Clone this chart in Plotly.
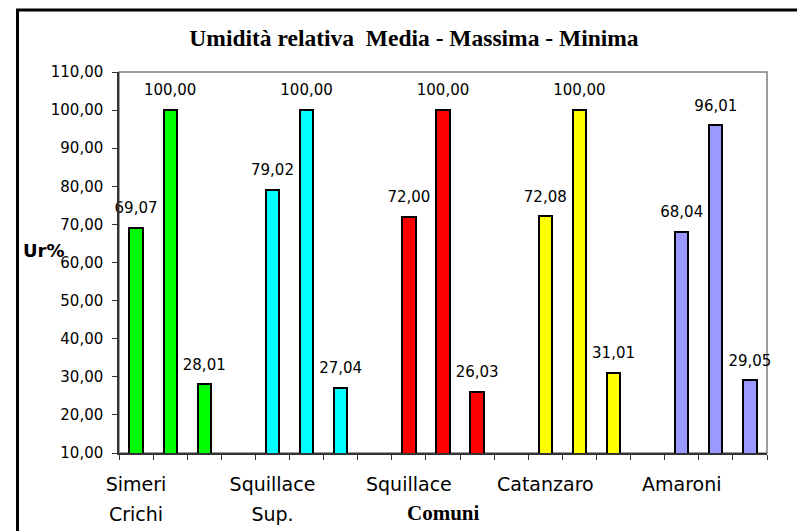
import plotly.graph_objects as go

# ---- data ----
comuni_line1 = ["Simeri", "Squillace", "Squillace", "Catanzaro", "Amaroni"]
comuni_line2 = ["Crichi", "Sup.", "", "", ""]
media = [69.07, 79.02, 72.00, 72.08, 68.04]
massima = [100.00, 100.00, 100.00, 100.00, 96.01]
minima = [28.01, 27.04, 26.03, 31.01, 29.05]
bar_colors = ["#00FF00", "#00FFFF", "#FF0000", "#FFFF00", "#9999FF"]
y_ticks = [10, 20, 30, 40, 50, 60, 70, 80, 90, 100, 110]

SLOTS_PER_GROUP = 4  # 3 bars + one empty slot
n_groups = len(comuni_line1)
n_slots = n_groups * SLOTS_PER_GROUP - 1

# page has an 8px body margin; figure is sized to fit the 805x531 window
OFF = 8
W, H = 805 - OFF, 531 - OFF
PL, PR, PT, PB = 119, 767, 72, 453  # plot area in window pixels

fig = go.Figure()
all_x, all_y = [], []
for g in range(n_groups):
    xs = [g * SLOTS_PER_GROUP + j for j in range(3)]
    ys = [media[g], massima[g], minima[g]]
    all_x += xs
    all_y += ys
    fig.add_trace(go.Bar(
        x=xs, y=ys, width=0.39,
        marker=dict(color=bar_colors[g], line=dict(color="black", width=2)),
        showlegend=False, hoverinfo="skip",
    ))

fig.add_trace(go.Scatter(
    x=all_x, y=all_y, mode="markers+text",
    marker=dict(size=16, opacity=0),
    text=[f"{v:.2f}".replace(".", ",") for v in all_y],
    textposition="top center",
    textfont=dict(family="DejaVu Sans", size=15, color="black"),
    showlegend=False, hoverinfo="skip", cliponaxis=False,
))

label_pos = [g * SLOTS_PER_GROUP for g in range(n_groups)]
# helper traces so that the two label axes are drawn
for ax in ("x2", "x3"):
    fig.add_trace(go.Scatter(
        x=label_pos, y=[None] * n_groups, xaxis=ax, yaxis="y",
        mode="markers", marker=dict(opacity=0),
        showlegend=False, hoverinfo="skip",
    ))

xr = [-0.5, n_slots - 0.5]
pw, ph = PR - PL, PB - PT

fig.update_layout(
    width=W, height=H,
    margin=dict(l=PL - OFF, r=W - (PR - OFF), t=PT - OFF, b=H - (PB - OFF)),
    paper_bgcolor="white", plot_bgcolor="white",
    separators=",.",
    bargap=0,
    title=dict(
        text="Umidità relativa  Media - Massima - Minima",
        font=dict(family="Liberation Serif", size=23.5, color="black", weight="bold"),
        x=(414 - OFF) / W, xanchor="center", xref="container",
        y=1 - (38 - OFF) / H, yanchor="middle", yref="container",
        automargin=False,
    ),
    xaxis=dict(
        range=xr, tickvals=[i - 0.5 for i in range(n_slots + 1)],
        ticktext=[""] * (n_slots + 1),
        ticks="outside", ticklen=5, tickcolor="#333333", tickwidth=1,
        showline=True, linecolor="#333333", linewidth=1.5,
        showgrid=False, zeroline=False, automargin=False,
    ),
    xaxis2=dict(
        overlaying="x", anchor="y", side="bottom", range=xr,
        tickvals=label_pos, ticktext=comuni_line1, ticks="",
        showline=False, showgrid=False, zeroline=False, automargin=False,
        tickfont=dict(family="DejaVu Sans", size=19, color="black"),
        ticklabelstandoff=18,
    ),
    xaxis3=dict(
        overlaying="x", anchor="y", side="bottom", range=xr,
        tickvals=label_pos, ticktext=comuni_line2, ticks="",
        showline=False, showgrid=False, zeroline=False, automargin=False,
        tickfont=dict(family="DejaVu Sans", size=19, color="black"),
        ticklabelstandoff=48,
    ),
    yaxis=dict(
        range=[10, 110], tickvals=y_ticks, tickformat=".2f",
        ticks="outside", ticklen=5, tickcolor="#333333", tickwidth=1,
        showline=True, linecolor="#333333", linewidth=1.5,
        showgrid=False, zeroline=False, automargin=False,
        tickfont=dict(family="DejaVu Sans", size=15, color="black"),
        ticklabelstandoff=6,
    ),
    shapes=[
        dict(type="rect", xref="paper", yref="paper", x0=0, x1=1, y0=0, y1=1,
             line=dict(color="#808080", width=1.5), layer="below"),
        dict(type="rect", xref="paper", yref="paper",
             x0=(17.5 - PL) / pw, x1=1.2, y0=-0.5, y1=(PB - 10) / ph,
             line=dict(color="black", width=3), layer="above"),
    ],
    annotations=[
        dict(text="Ur%", xref="paper", yref="paper",
             x=(44 - PL) / pw, y=(PB - 250) / ph, xanchor="center", yanchor="middle",
             showarrow=False,
             font=dict(family="DejaVu Sans", size=18, color="black", weight="bold")),
        dict(text="Comuni", xref="paper", yref="paper",
             x=0.5, y=(PB - 513) / ph, xanchor="center", yanchor="middle",
             showarrow=False,
             font=dict(family="Liberation Serif", size=21, color="black", weight="bold")),
    ],
)

fig.write_html("out.html")
